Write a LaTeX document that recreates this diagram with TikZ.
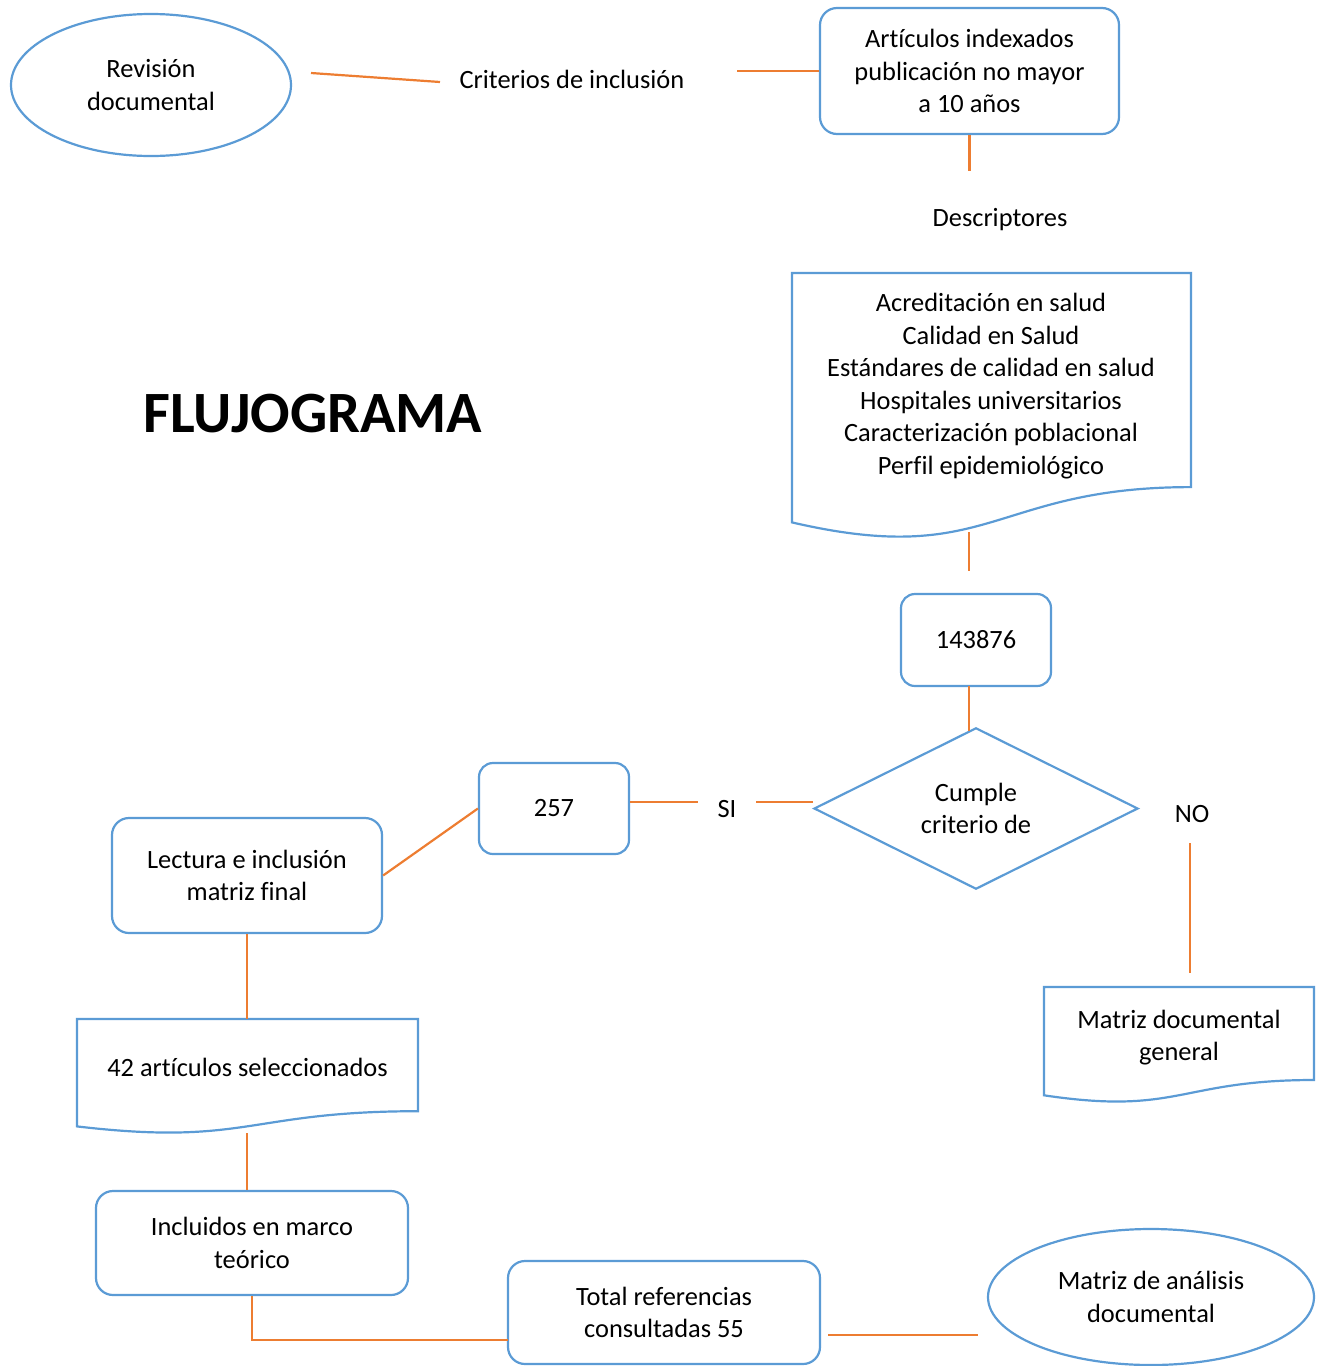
\documentclass[tikz,border=0pt]{standalone}
\usepackage{fontspec}
\setmainfont{Carlito}[Ligatures=NoCommon]
\usetikzlibrary{shapes.geometric}
\definecolor{bl}{RGB}{91,155,213}
\definecolor{orng}{RGB}{237,125,49}
\begin{document}
\begin{tikzpicture}[x=1pt,y=-1pt,
  every node/.style={font=\fontsize{26.4}{32.6}\selectfont, text=black},
  blue line/.style={draw=bl, line width=2.2pt},
  rbox/.style={blue line, rounded corners=17pt, align=center, inner sep=0pt},
  oval/.style={blue line, ellipse, align=center, inner sep=0pt},
  plain/.style={align=center, inner sep=0pt},
  conn/.style={draw=orng, line width=2.2pt}
]
\useasboundingbox (0,0) rectangle (1318,1366);

% shapes
\node[oval, minimum width=280pt, minimum height=142pt] (rev) at (151,85) {Revisión\\documental};
\node[plain] (crit) at (572,79) {Criterios de inclusión};
\node[rbox, minimum width=299pt, minimum height=126pt] (art) at (969.5,71) {Artículos indexados\\publicación no mayor\\a 10 años};
\node[plain] (descl) at (1000,220) {Descriptores};

% document 1
\draw[blue line] (792,273) -- (1191,273) -- (1191,487.1)
  .. controls (991.5,487.1) and (991.5,568.7) .. (792,522.4) -- cycle;
\node[plain] (desc) at (991,386) {Acreditación en salud\\Calidad en Salud\\Estándares de calidad en salud\\Hospitales universitarios\\Caracterización poblacional\\Perfil epidemiológico};

\node[font=\fontsize{58.5}{68}\selectfont\bfseries, inner sep=0pt] (title) at (313,414) {FLUJOGRAMA};

\node[rbox, minimum width=150pt, minimum height=92pt, rounded corners=14pt] (n143) at (976,640) {143876};
\node[blue line, diamond, minimum width=324pt, minimum height=161pt, inner sep=0pt, align=center] (dia) at (976,808.5) {Cumple\\criterio de};
\node[plain] (si) at (727,809) {SI};
\node[plain] (no) at (1192,814) {NO};
\node[rbox, minimum width=150pt, minimum height=91pt, rounded corners=14pt] (n257) at (554,808.5) {257};
\node[rbox, minimum width=270pt, minimum height=115pt] (lect) at (247,875.5) {Lectura e inclusión\\matriz final};

% document 42
\draw[blue line] (77,1019) -- (418,1019) -- (418,1111.2)
  .. controls (247.5,1111.2) and (247.5,1146.4) .. (77,1126.4) -- cycle;
\node[plain] (d42) at (247.5,1067) {42 artículos seleccionados};
\coordinate (d42top) at (247,1019);

% document matriz general
\draw[blue line] (1044,987) -- (1314,987) -- (1314,1080)
  .. controls (1179,1080) and (1179,1115.5) .. (1044,1095.3) -- cycle;
\node[plain] (mdg) at (1179,1037.5) {Matriz documental\\general};

\node[rbox, minimum width=312pt, minimum height=104pt] (inc) at (252,1243) {Incluidos en marco\\teórico};
\node[rbox, minimum width=312pt, minimum height=103pt] (tot) at (664,1312.5) {Total referencias\\consultadas 55};
\node[oval, minimum width=326pt, minimum height=136pt] (mad) at (1151,1297) {Matriz de análisis\\documental};

% connectors
\coordinate (c1a) at (311,73); \coordinate (c1b) at (440,82);
\draw[conn] (c1a) -- (c1b);
\coordinate (c2a) at (737,71);
\draw[conn] (c2a) -- (art.west);
\coordinate (c3) at (969.5,171);
\draw[conn] (art.south) -- (c3);
\coordinate (c4a) at (969,532); \coordinate (c4b) at (969,571);
\draw[conn] (c4a) -- (c4b);
\coordinate (c5a) at (969,686); \coordinate (c5b) at (969,731);
\draw[conn] (c5a) -- (c5b);
\coordinate (c6b) at (698,802);
\draw[conn] (n257.east |- c6b) -- (c6b);
\coordinate (c7) at (756,802);
\draw[conn] (c7) -- (dia.west |- c7);
\draw[conn] (lect.east) -- (n257.west);
\coordinate (c9a) at (1190,843); \coordinate (c9b) at (1190,973);
\draw[conn] (c9a) -- (c9b);
\draw[conn] (lect.south) -- (d42top);
\coordinate (c11) at (247,1133);
\draw[conn] (c11) -- (c11 |- inc.north);
\coordinate (c12) at (508,1340);
\draw[conn] (inc.south) |- (c12);
\coordinate (c13a) at (828,1335); \coordinate (c13b) at (978,1335);
\draw[conn] (c13a) -- (c13b);
\end{tikzpicture}
\end{document}
